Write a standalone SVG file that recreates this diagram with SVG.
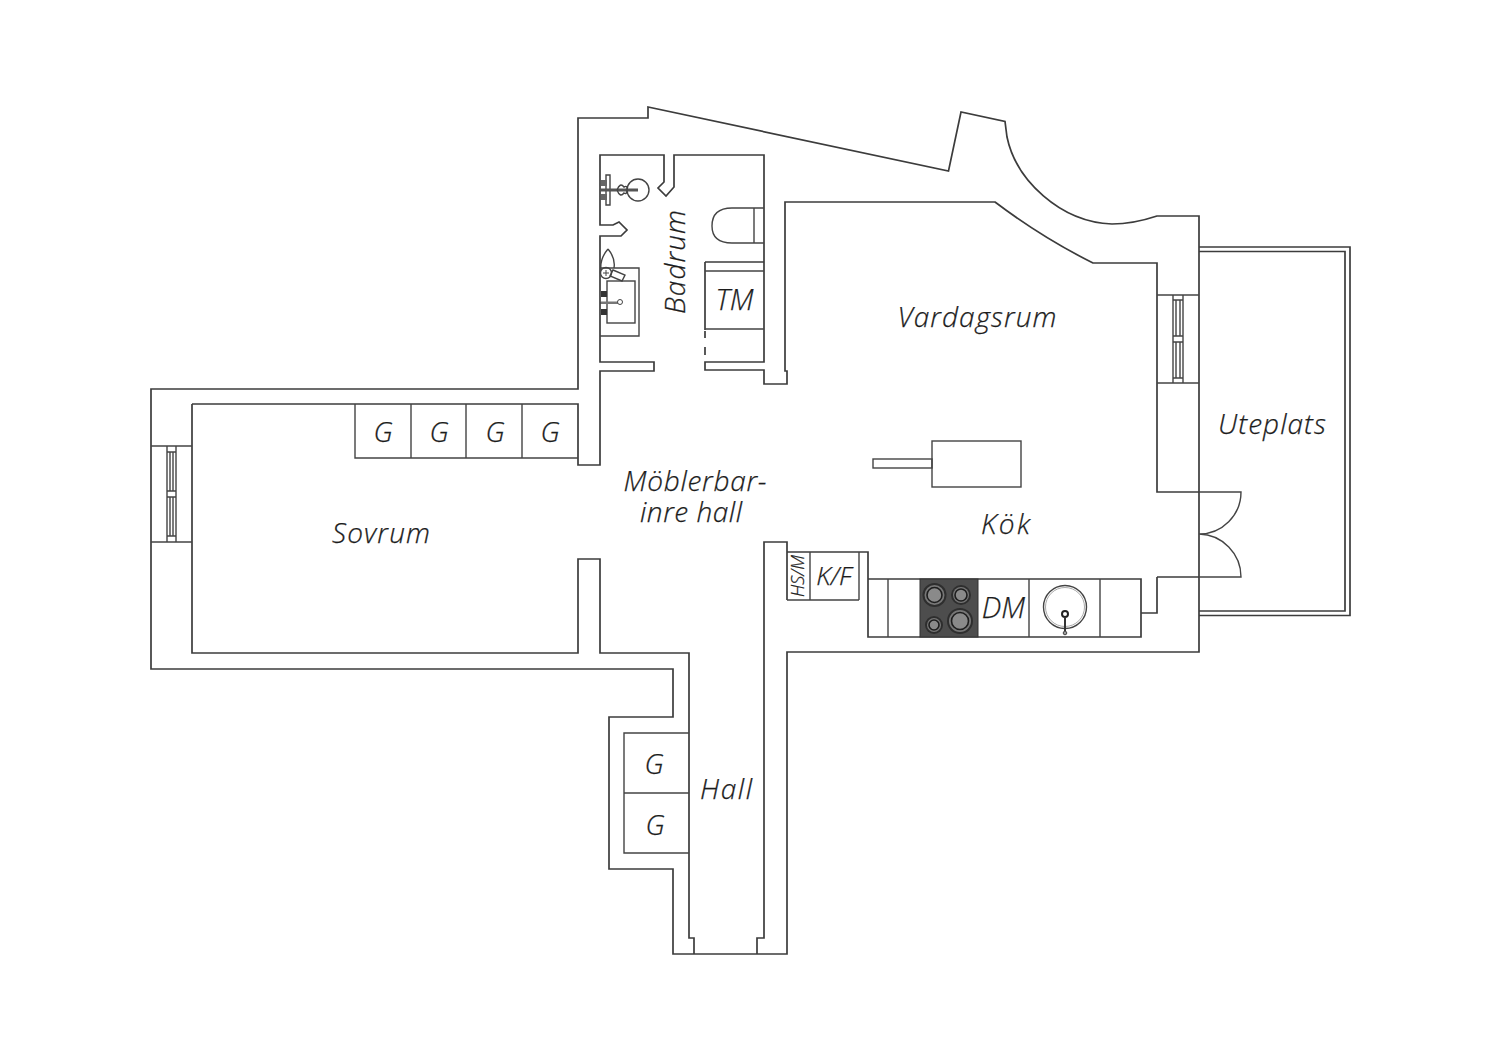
<svg xmlns="http://www.w3.org/2000/svg" width="1500" height="1060" viewBox="0 0 1500 1060">
<style>
.w{fill:none;stroke:#3c3c3c;stroke-width:1.7;stroke-linejoin:miter}
.t{fill:none;stroke:#444;stroke-width:1.4}
.l{font-family:"Open Sans","Lato",sans-serif;font-style:italic;font-weight:300;font-size:28px;fill:#1c1c1c;stroke:#1c1c1c;stroke-width:.25;text-anchor:middle}
.b{fill:#8a8a8a;stroke:#1e1e1e;stroke-width:1.6}
.r{fill:none;stroke:#aaa;stroke-width:1}
</style>
<rect width="1500" height="1060" fill="#fff"/>
<g id="walls">
<path class="w" d="M578,389V118H648V107L948.500,171L961,112L1005,121.500L1007,137C1016,180 1060,222 1112,224C1130,224 1145,220 1157,216H1199V652H787V954H673V869H609V717H673V669H151V389Z"/>
<path class="w" d="M192,404H578V465H600V371H654V362H600V236H621L627,230L619,222L613,225H600V155H664V182L658,188L666,196L674,187V155H764V362H705V370H764V384H787V371H785V202H995Q1042,237.500 1093,263H1157V492H1199M1157,492V295M1157,383V492M1157,577H1199M1157,577V613H1141"/>
<path class="w" d="M192,404V653H578V559H600V653H689V938H694V954M757,954V938H764V542H787V600"/>
<path class="w" d="M787,552H868V637H1141V579H868"/>
<path class="w" d="M705,262H764M705,262V330"/>
<path class="w" stroke-dasharray="7 9 8 100" d="M705,331V357"/>
</g>
<g id="terrace">
<path class="w" d="M1199,247H1350V615.500H1199M1199,251.500H1345V611H1199"/>
<path class="t" d="M1199,492H1241A42,42 0 0 1 1199,534A43,43 0 0 1 1241,577H1199"/>
</g>
<g id="windows">
<path class="t" d="M1157,295H1199M1157,383H1199M1173,295H1183V383H1173ZM1173,336H1183M1173,342H1183M1176,300V336M1180,300V336M1176,342V378M1180,342V378M1173,300H1183M1173,378H1183"/>
<path class="t" d="M151,446H192M151,542H192M167,446H176V542H167ZM167,491H176M167,497H176M170,452V491M173,452V491M170,497V536M173,497V536M167,452H176M167,536H176"/>
</g>
<g id="wardrobes">
<path class="t" d="M355,404V458H578M411,404V458M466,404V458M522,404V458"/>
<path class="t" d="M689,733H624V853H689M624,793H689"/>
</g>
<g id="bathroom">
<path class="t" d="M705,271H764M705,329H764"/>
<path class="t" d="M764,208H732Q712,208 712,226Q712,243 732,243H764M754,208V243"/>
<circle class="t" cx="638" cy="190" r="11"/>
<path class="t" d="M606,175H610V205H606Z"/>
<path d="M600,188.500H638V191.500H600Z" fill="#555"/>
<path d="M601,180H607V186H601ZM601,194H607V200H601Z" fill="#666"/>
<path class="t" d="M617,190Q620,182 624,187Q628,185 627,190M617,190Q620,198 624,193Q627,195 627,190"/>
<path class="t" d="M600,268H639V336H600"/>
<rect class="t" x="607" y="281" width="28" height="42"/>
<path class="t" d="M600,303H620"/><path d="M601,301.500H619V304H601Z" fill="#777"/><circle cx="620" cy="302" r="2.500" fill="#fff" stroke="#444"/>
<path d="M601,291H607V297H601ZM601,309H607V315H601Z" fill="#333"/>
<path class="t" d="M608,249C602,256 600,262 601,270M608,249C613,255 615,262 614,268"/>
<circle class="t" cx="606" cy="273" r="5.500"/>
<path d="M606,270V276M603,273H609" stroke="#444"/>
<path class="t" d="M613,270L625,275L622,281L610,276Z"/>
</g>
<g id="kitchen">
<path class="t" d="M810,552V600M859,552V600M787,600H859"/>
<path class="t" d="M888,579V637M1029,579V637M1100,579V637"/>
<rect x="920" y="579" width="58" height="58" fill="#4d4d4d" stroke="#333"/>
<circle cx="934.500" cy="595" r="12" fill="#2e2e2e"/><circle cx="934.500" cy="595" r="10" fill="#777"/><circle class="b" cx="934.500" cy="595" r="7.500"/>
<circle cx="961" cy="595" r="10" fill="#2e2e2e"/><circle cx="961" cy="595" r="8" fill="#777"/><circle class="b" cx="961" cy="595" r="6"/>
<circle cx="934" cy="625" r="9" fill="#2e2e2e"/><circle cx="934" cy="625" r="7" fill="#777"/><circle class="b" cx="934" cy="625" r="5"/>
<circle cx="960" cy="621" r="13" fill="#2e2e2e"/><circle cx="960" cy="621" r="11" fill="#777"/><circle class="b" cx="960" cy="621" r="8.500"/>
<circle class="t" cx="1065" cy="607" r="21.500"/>
<circle class="r" cx="1065" cy="607" r="19.500"/>
<circle cx="1065" cy="614" r="3" fill="#fff" stroke="#222" stroke-width="2"/>
<path d="M1065,617V631" stroke="#333" stroke-width="2"/><circle cx="1065" cy="633" r="1.800" fill="#999" stroke="#444"/>
<rect class="t" x="932" y="441" width="89" height="46"/>
<rect class="t" x="873" y="459" width="59" height="9"/>
</g>
<g id="labels">
<text class="l" x="977" y="327" textLength="159">Vardagsrum</text>
<text class="l" x="381" y="543" textLength="98">Sovrum</text>
<text class="l"><tspan x="695" y="491" textLength="143">Möblerbar-</tspan><tspan x="691" y="522" textLength="102">inre hall</tspan></text>
<text class="l" x="1005.500" y="534" textLength="49">Kök</text>
<text class="l" x="1272" y="434" textLength="108">Uteplats</text>
<text class="l" x="726" y="799" textLength="52">Hall</text>
<text class="l" x="734.500" y="310" style="font-size:29px">TM</text>
<text class="l" x="1003.500" y="618" style="font-size:29px">DM</text>
<text class="l" x="834" y="585" style="font-size:26px">K/F</text>
<text class="l" x="383" y="442">G</text>
<text class="l" x="439" y="442">G</text>
<text class="l" x="495" y="442">G</text>
<text class="l" x="550" y="442">G</text>
<text class="l" x="654" y="774">G</text>
<text class="l" x="655" y="835">G</text>
<text class="l" transform="translate(685,262) rotate(-90)" textLength="104">Badrum</text>
<text class="l" transform="translate(804,576) rotate(-90)" style="font-size:18px">HS/M</text>
</g>
</svg>
